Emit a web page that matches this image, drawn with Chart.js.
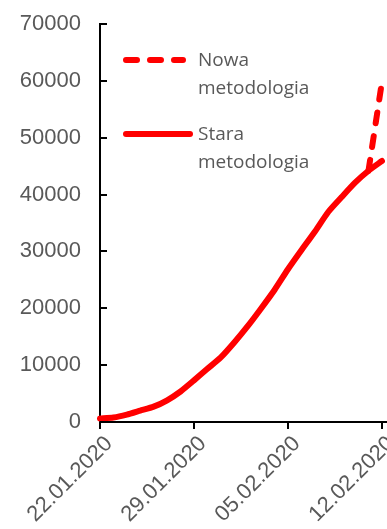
<!DOCTYPE html>
<html>
<head>
<meta charset="utf-8">
<script src="https://cdn.jsdelivr.net/npm/chart.js@4/dist/chart.umd.min.js"></script>
<style>
  html, body { margin: 0; padding: 0; background: #fff; overflow: hidden; }
  #wykres { display: block; }
</style>
</head>
<body>
<canvas id="wykres" width="416" height="552"></canvas>
<script>
// dane (liczba potwierdzonych przypadkow)
var daty = ['22.01.2020', '23.01.2020', '24.01.2020', '25.01.2020', '26.01.2020', '27.01.2020',
  '28.01.2020', '29.01.2020', '30.01.2020', '31.01.2020', '01.02.2020', '02.02.2020',
  '03.02.2020', '04.02.2020', '05.02.2020', '06.02.2020', '07.02.2020', '08.02.2020',
  '09.02.2020', '10.02.2020', '11.02.2020', '12.02.2020', '13.02.2020'];

var staraMetodologia = [600, 790, 1300, 2000, 2700, 3820, 5370, 7320, 9360, 11360, 13980, 16850,
  19970, 23220, 26860, 30200, 33460, 36940, 39560, 42090, 44190, 45900, null];

var nowaMetodologia = [null, null, null, null, null, null, null, null, null, null, null, null,
  null, null, null, null, null, null, null, null, 44190, 59800, null];

var opisNowa = ['Nowa', 'metodologia'];
var opisStara = ['Stara', 'metodologia'];

var osY = { min: 0, max: 70000, krok: 10000 };
var coIleDni = 7;

var szary = '#595959';
var czerwony = '#ff0000';


//#### legenda w srodku wykresu (dwie linijki tekstu)
var legendaWSrodku = {
  id: 'legendaWSrodku',
  afterDraw: function(chart) {
    var ctx = chart.ctx;
    var area = chart.chartArea;
    ctx.save();
    chart.data.datasets.forEach(function(ds, i) {
      var y = area.top + 36 + i * 74;
      var x1 = area.left + 26;
      var x2 = area.left + (ds.borderDash && ds.borderDash.length ? 83 : 90);
      ctx.beginPath();
      ctx.strokeStyle = ds.borderColor;
      ctx.lineWidth = ds.borderWidth;
      ctx.lineCap = 'round';
      ctx.setLineDash(ds.borderDash || []);
      ctx.moveTo(x1, y);
      ctx.lineTo(x2, y);
      ctx.stroke();
      ctx.setLineDash([]);

      ctx.fillStyle = szary;
      ctx.font = '19px "Open Sans"';
      ctx.textAlign = 'left';
      ctx.textBaseline = 'alphabetic';
      ds.label.forEach(function(linia, j) {
        ctx.fillText(linia, area.left + 98, y + 6 + j * 28);
      });
    });
    ctx.restore();
  }
};

//#### kreski osi Y do srodka wykresu
var kreskiOsiY = {
  id: 'kreskiOsiY',
  afterDatasetsDraw: function(chart) {
    var ctx = chart.ctx;
    var skala = chart.scales.y;
    ctx.save();
    ctx.strokeStyle = '#000';
    ctx.lineWidth = 2;
    skala.ticks.forEach(function(t, i) {
      var py = Math.round(skala.getPixelForTick(i));
      ctx.beginPath();
      ctx.moveTo(skala.right, py);
      ctx.lineTo(skala.right + 7, py);
      ctx.stroke();
    });
    ctx.restore();
  }
};


var chart = new Chart(document.getElementById('wykres'), {
  type: 'line',
  data: {
    labels: daty,
    datasets: [{
      label: opisNowa,
      data: nowaMetodologia,
      borderColor: czerwony,
      backgroundColor: czerwony,
      borderWidth: 6,
      borderDash: [11, 13],
      borderCapStyle: 'round',
      pointRadius: 0,
      tension: 0,
      spanGaps: false
    },
    {
      label: opisStara,
      data: staraMetodologia,
      borderColor: czerwony,
      backgroundColor: czerwony,
      borderWidth: 6,
      borderCapStyle: 'round',
      borderJoinStyle: 'round',
      pointRadius: 0,
      tension: 0.2
    }]
  },
  options: {
    responsive: false,
    animation: false,
    layout: { padding: { top: 24, right: 4, left: 0, bottom: 0 } },
    plugins: {
      legend: { display: false },
      tooltip: { enabled: false }
    },
    scales: {
      x: {
        offset: false,
        afterFit: function(scale) { scale.height = 130; },
        grid: {
          drawOnChartArea: false,
          drawTicks: true,
          tickLength: 7,
          lineWidth: 2,
          color: function(c) { return c.index % coIleDni === 0 ? '#000' : 'rgba(0,0,0,0)'; }
        },
        border: { display: true, color: '#000', width: 2 },
        ticks: {
          autoSkip: false,
          maxRotation: 45,
          minRotation: 45,
          padding: 2,
          labelOffset: 9,
          color: szary,
          font: { family: '"Liberation Sans", Arial, sans-serif', size: 22 },
          callback: function(val, i) { return i % coIleDni === 0 ? daty[i] : ''; }
        }
      },
      y: {
        min: osY.min,
        max: osY.max,
        afterFit: function(scale) {
          scale.width = 100;
          scale.paddingTop = 0;
          scale.paddingBottom = 0;
        },
        grid: { display: false, drawTicks: false },
        border: { display: true, color: '#000', width: 2 },
        ticks: {
          stepSize: osY.krok,
          padding: 19,
          color: szary,
          font: { family: '"Liberation Sans", Arial, sans-serif', size: 22 },
          callback: function(v) { return String(v); }
        }
      }
    }
  },
  plugins: [legendaWSrodku, kreskiOsiY]
});
</script>
</body>
</html>
